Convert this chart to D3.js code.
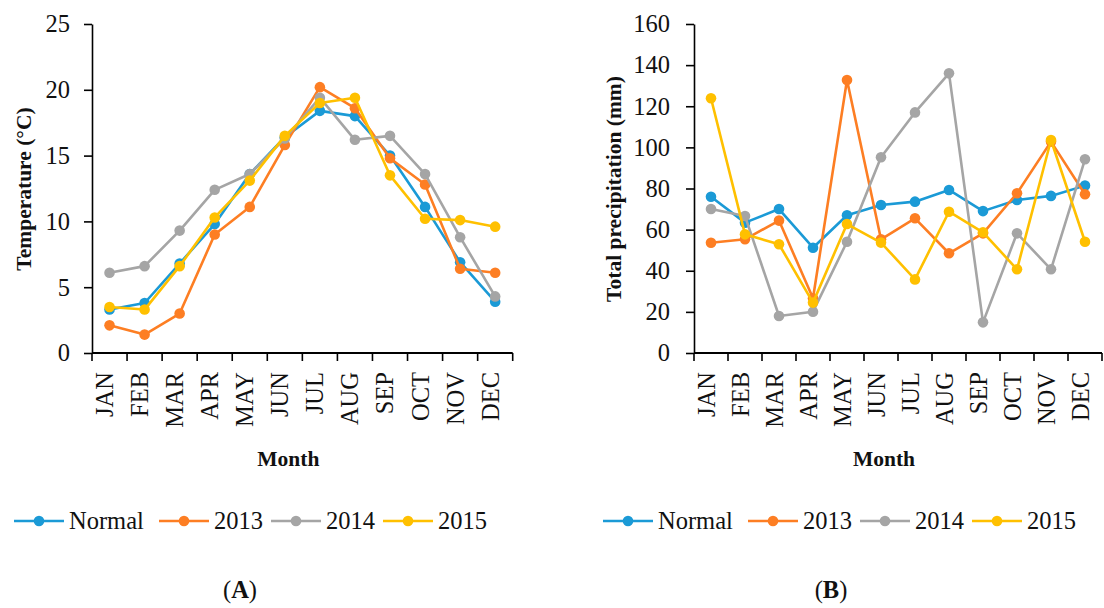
<!DOCTYPE html>
<html>
<head>
<meta charset="utf-8">
<script src="https://cdn.jsdelivr.net/npm/d3@7"></script>
<style>
  body { margin: 0; background: #fff; }
  svg { display: block; }
  svg text { font-family: "Liberation Serif", "Times New Roman", serif !important; fill: #111; }
</style>
</head>
<body>
<svg id="chart" width="1104" height="608"></svg>
<script>
const months = ["JAN", "FEB", "MAR", "APR", "MAY", "JUN", "JUL", "AUG", "SEP", "OCT", "NOV", "DEC"];
const seriesNames = ["Normal", "2013", "2014", "2015"];
const seriesColors = ["#1b9ad6", "#fd7e23", "#a5a5a5", "#ffc000"];

// temperature (°C)
const tempNormal = [3.3, 3.8, 6.8, 9.8, 13.6, 16.4, 18.4, 18.0, 15.0, 11.1, 6.9, 3.9];
const temp2013 = [2.1, 1.4, 3.0, 9.0, 11.1, 15.8, 20.2, 18.6, 14.8, 12.8, 6.4, 6.1];
const temp2014 = [6.1, 6.6, 9.3, 12.4, 13.6, 16.3, 19.4, 16.2, 16.5, 13.6, 8.8, 4.3];
const temp2015 = [3.5, 3.3, 6.6, 10.3, 13.1, 16.5, 19.0, 19.4, 13.5, 10.2, 10.1, 9.6];
const tempTicks = [0, 5, 10, 15, 20, 25];

// total precipitation (mm)
const precNormal = [76, 63.4, 70, 51.2, 67, 72, 73.6, 79.3, 69, 74.4, 76.4, 81.4];
const prec2013 = [53.6, 55.3, 64.4, 26.6, 132.8, 55.3, 65.5, 48.5, 58.2, 77.7, 102.8, 77.2];
const prec2014 = [70, 66.6, 18, 20.1, 54.1, 95.2, 117, 136, 14.9, 58.2, 40.7, 94.2];
const prec2015 = [123.9, 57.7, 52.9, 24.5, 62.7, 53.7, 35.8, 68.7, 58.7, 40.7, 103.6, 54.1];
const precTicks = [0, 20, 40, 60, 80, 100, 120, 140, 160];

const FONT = '"Liberation Serif", "Times New Roman", serif';
const legendOffsets = [0, 145, 257, 369];
const svg = d3.select("#chart");

function drawPanel(p) {
    const g = svg.append("g");
    const x = d3.scaleBand().domain(months).range([p.x0, p.x1]).padding(0);
    const y = d3.scaleLinear().domain([0, d3.max(p.ticks)]).range([353, 24]);

    // y axis
    const ya = g.append("g")
        .attr("transform", `translate(${p.x0},0)`)
        .call(d3.axisLeft(y).tickValues(p.ticks).tickSize(8).tickPadding(p.pad).tickSizeOuter(0))
        .attr("font-family", FONT);
    ya.select(".domain").attr("stroke", "#000").attr("stroke-width", 1.6);
    ya.selectAll(".tick line").attr("stroke", "#000").attr("stroke-width", 1.6);
    ya.selectAll(".tick text").style("font-family", FONT).style("font-size", "24.5px").attr("fill", "#111");

    // x axis: line + boundary ticks
    g.append("line")
        .attr("x1", p.x0).attr("x2", p.x1).attr("y1", y(0)).attr("y2", y(0))
        .attr("stroke", "#000").attr("stroke-width", 1.8);
    g.selectAll(".xb").data(d3.range(months.length + 1)).join("line")
        .attr("x1", i => p.x0 + i * x.step()).attr("x2", i => p.x0 + i * x.step())
        .attr("y1", y(0)).attr("y2", y(0) + 8)
        .attr("stroke", "#000").attr("stroke-width", 1.6);
    g.selectAll(".xl").data(months).join("text")
        .attr("transform", d => `translate(${x(d) + x.bandwidth() / 2},${y(0) + 19}) rotate(-90)`)
        .attr("dy", 3.5)
        .attr("text-anchor", "end")
        .style("font-family", FONT)
        .style("font-size", "24.5px")
        .text(d => d);

    // titles
    g.append("text")
        .attr("transform", `translate(${p.yTitleX},189) rotate(-90)`)
        .attr("text-anchor", "middle")
        .style("font-family", FONT)
        .style("font-size", "21.5px").style("font-weight", "bold")
        .text(p.yTitle);
    g.append("text")
        .attr("x", (p.x0 + p.x1) / 2 - 14).attr("y", 466)
        .attr("text-anchor", "middle")
        .style("font-family", FONT)
        .style("font-size", "21.5px").style("font-weight", "bold")
        .text("Month");
    const lab = g.append("text")
        .attr("x", p.labelX).attr("y", 598)
        .attr("text-anchor", "middle")
        .style("font-family", FONT)
        .style("font-size", "24.5px");
    lab.append("tspan").text("(");
    lab.append("tspan").style("font-weight", "bold").text(p.label);
    lab.append("tspan").text(")");

    // series
    const line = d3.line().x((d, i) => x(months[i]) + x.bandwidth() / 2).y(d => y(d));
    p.series.forEach((vals, si) => {
        const sg = g.append("g");
        sg.append("path").datum(vals)
            .attr("d", line)
            .attr("fill", "none")
            .attr("stroke", seriesColors[si])
            .attr("stroke-width", 2.6)
            .attr("stroke-linejoin", "round");
        sg.selectAll("circle").data(vals).join("circle")
            .attr("cx", (d, i) => x(months[i]) + x.bandwidth() / 2)
            .attr("cy", d => y(d))
            .attr("r", 5.3)
            .attr("fill", seriesColors[si]);
    });

    // legend
    seriesNames.forEach((name, si) => {
        const lx = p.legendX + legendOffsets[si];
        const lg = g.append("g");
        lg.append("line")
            .attr("x1", lx).attr("x2", lx + 50).attr("y1", 521).attr("y2", 521)
            .attr("stroke", seriesColors[si]).attr("stroke-width", 2.6);
        lg.append("circle")
            .attr("cx", lx + 25).attr("cy", 521).attr("r", 5.3)
            .attr("fill", seriesColors[si]);
        lg.append("text")
            .attr("x", lx + 55).attr("y", 529)
            .style("font-family", FONT)
            .style("font-size", "24.5px")
            .text(name);
    });
}

drawPanel({
    x0: 92, x1: 512.7, ticks: tempTicks, pad: 14,
    yTitle: "Temperature (°C)", yTitleX: 31,
    label: "A", labelX: 240, legendX: 14,
    series: [tempNormal, temp2013, temp2014, temp2015]
});

drawPanel({
    x0: 694, x1: 1102, ticks: precTicks, pad: 16,
    yTitle: "Total precipitation (mm)", yTitleX: 621,
    label: "B", labelX: 831, legendX: 603,
    series: [precNormal, prec2013, prec2014, prec2015]
});
</script>
</body>
</html>
